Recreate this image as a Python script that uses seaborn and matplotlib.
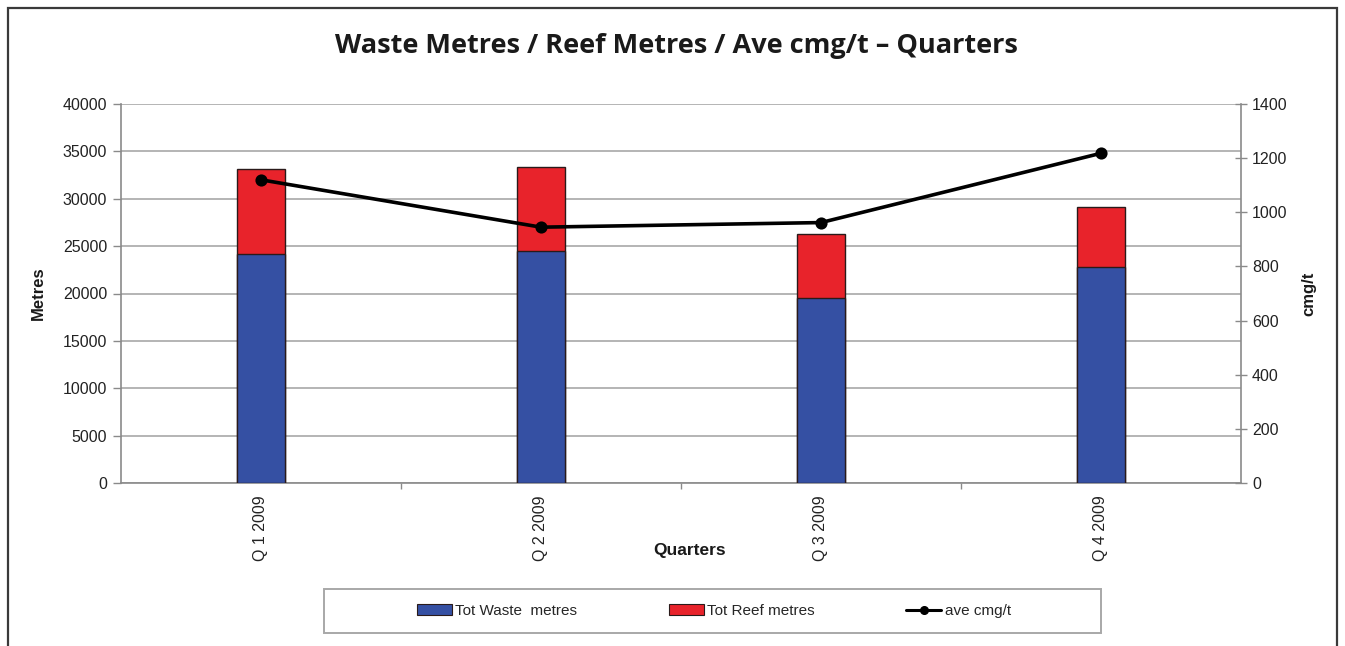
import matplotlib
matplotlib.use("Agg")
import matplotlib.pyplot as plt
from matplotlib.patches import Rectangle, Patch
from matplotlib.lines import Line2D
import seaborn as sns
import pandas as pd

# Quarterly development data
quarters = ["Q 1 2009", "Q 2 2009", "Q 3 2009", "Q 4 2009"]
waste_metres = [24200, 24500, 19500, 22800]
reef_metres = [8900, 8900, 6800, 6300]
ave_cmgt = [1120, 945, 962, 1218]

df = pd.DataFrame({
    "quarter": quarters,
    "waste": waste_metres,
    "reef": reef_metres,
    "cmgt": ave_cmgt,
})
df["total"] = df["waste"] + df["reef"]

sns.set_theme(style="white")
plt.rcParams["font.family"] = ["Liberation Sans", "DejaVu Sans"]

BLUE = "#3550a3"
RED = "#e8232b"
GRID = "#b4b4b4"
AXIS = "#8a8a8a"
TXT = "#222222"
FS = 11.5

fig = plt.figure(figsize=(13.45, 6.46), dpi=100)
ax = fig.add_axes([121 / 1345, 1 - 483 / 646, 1120 / 1345, 379 / 646])

# stacked bars: total (red) underneath, waste (blue) on top of it
sns.barplot(data=df, x="quarter", y="total", color=RED, width=0.172,
            edgecolor="#2a1a1a", linewidth=1.0, saturation=1, ax=ax, zorder=3)
sns.barplot(data=df, x="quarter", y="waste", color=BLUE, width=0.172,
            edgecolor="#2a1a1a", linewidth=1.0, saturation=1, ax=ax, zorder=3)

ax.set_ylim(0, 40000)
ax.set_yticks(range(0, 40001, 5000))
ax.set_xlim(-0.5, 3.5)
ax.set_xticks([0.5, 1.5, 2.5], minor=True)
ax.yaxis.grid(True, color=GRID, linewidth=1.4, zorder=0)
ax.set_axisbelow(True)
ax.tick_params(axis="y", which="both", length=6, width=1, color=AXIS,
               labelsize=FS, pad=4, left=True, labelcolor=TXT)
ax.tick_params(axis="x", which="major", length=0, labelsize=FS, pad=9,
               labelcolor=TXT)
ax.tick_params(axis="x", which="minor", length=4, width=1, color=AXIS,
               bottom=True)
plt.setp(ax.get_xticklabels(), rotation=90)
ax.set_xlabel("Quarters", fontsize=12.5, fontweight="bold", color="#1a1a1a",
              va="center")
ax.xaxis.set_label_coords(0.508, -0.177)
ax.set_ylabel("Metres", fontsize=12, fontweight="bold", labelpad=12,
              color="#1a1a1a")
for side in ["left", "bottom", "right"]:
    ax.spines[side].set_color(AXIS)
    ax.spines[side].set_linewidth(1.2)
ax.spines["top"].set_visible(False)

# secondary axis: average grade
ax2 = ax.twinx()
sns.pointplot(data=df, x="quarter", y="cmgt", color="black", markers="o",
              linewidth=2.6, markersize=6.8, ax=ax2, zorder=5)
ax2.set_ylim(0, 1400)
ax2.set_yticks(range(0, 1401, 200))
ax2.set_xlim(-0.5, 3.5)
ax2.tick_params(axis="y", length=8, width=1, color=AXIS, labelsize=FS,
                pad=4, right=True, direction="inout", labelcolor=TXT)
ax2.set_ylabel("cmg/t", fontsize=12, fontweight="bold", labelpad=10,
               rotation=90, color="#1a1a1a")
ax2.grid(False)
for side in ["left", "bottom", "right", "top"]:
    ax2.spines[side].set_visible(False)

fig.text(0.503, 1 - 46 / 646, "Waste Metres / Reef Metres / Ave cmg/t – Quarters",
         ha="center", va="center", fontsize=19.5, fontweight="bold",
         family=["Open Sans", "DejaVu Sans"], color="#1a1a1a")

# legend: entries in one row, inside a separately drawn box
handles = [
    Patch(facecolor=BLUE, edgecolor="#2a1a1a", linewidth=0.8),
    Patch(facecolor=RED, edgecolor="#2a1a1a", linewidth=0.8),
    Line2D([0], [0], color="black", linewidth=2.2, marker="o", markersize=5.5),
]
labels = ["Tot Waste  metres", "Tot Reef metres", "ave cmg/t"]
fig.legend(handles, labels, loc="center left", ncol=3,
           bbox_to_anchor=(417 / 1345, 1 - 611 / 646),
           fontsize=11, frameon=False, borderpad=0, borderaxespad=0,
           handlelength=2.3, handleheight=0.7,
           handletextpad=0.2, columnspacing=6.0)
fig.patches.append(Rectangle((324 / 1345, 1 - 633 / 646), 777 / 1345, 44 / 646,
                             transform=fig.transFigure, fill=False,
                             edgecolor="#a8a8a8", linewidth=1.4))

# outer frame around the chart
fig.patches.append(Rectangle((8 / 1345, -0.02), 1329 / 1345, 1 - 8 / 646 + 0.02,
                             transform=fig.transFigure, fill=False,
                             edgecolor="#3a3a3a", linewidth=1.6))

fig.savefig("out.png", dpi=100)
